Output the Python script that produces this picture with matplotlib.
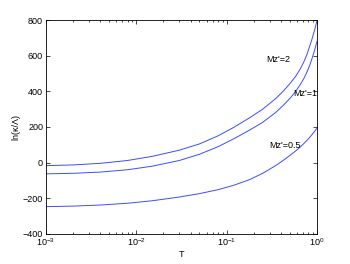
import matplotlib
matplotlib.use("Agg")
import matplotlib.pyplot as plt
from matplotlib.ticker import LogLocator, NullFormatter

plt.rcParams['font.family'] = ['Liberation Sans', 'DejaVu Sans']
plt.rcParams['mathtext.fontset'] = 'custom'
plt.rcParams['mathtext.rm'] = 'Liberation Sans'
plt.rcParams['mathtext.it'] = 'Liberation Sans:italic'

# temperature values
T = [0.001, 0.002, 0.004, 0.008, 0.015, 0.03, 0.05, 0.08, 0.12, 0.18,
     0.25, 0.35, 0.42, 0.5, 0.58, 0.65, 0.71, 0.77, 0.83, 0.88, 0.94, 1.0]

# ln(kappa/Lambda) for each Mz'
mz2 = [-17, -13, -4, 12, 35, 70, 105, 150, 198, 252,
       300, 360, 400, 443, 485, 525, 563, 605, 655, 695, 745, 800]
mz1 = [-63, -60, -53, -40, -20, 12, 47, 89, 134, 183,
       226, 282, 320, 360, 400, 437, 470, 507, 547, 585, 632, 682]
mz05 = [-247, -244, -238, -228, -214, -193, -174, -152, -127, -95,
        -60, -16, 12, 40, 66, 87, 106, 124, 142, 158, 176, 194]

labels = ["Mz'=2", "Mz'=1", "Mz'=0.5"]
label_pos = [(0.277, 576), (0.538, 389), (0.296, 95)]

fig = plt.figure(figsize=(3.5, 2.64), dpi=100)
ax = fig.add_axes([0.131, 0.114, 0.775, 0.81])

for y in (mz2, mz1, mz05):
    ax.plot(T, y, color='#3a4cff', lw=0.7)

for txt, (x, y) in zip(labels, label_pos):
    ax.text(x, y, txt, fontsize=6.5, va='center', ha='left')

ax.set_xscale('log')
ax.set_xlim(1e-3, 1)
ax.set_ylim(-400, 800)
ax.set_yticks(range(-400, 801, 200))
ax.xaxis.set_minor_locator(LogLocator(base=10, subs=range(2, 10)))
ax.xaxis.set_minor_formatter(NullFormatter())

ax.tick_params(which='both', direction='in', top=True, right=True,
               labelsize=6.5, width=0.5, pad=2)
ax.tick_params(which='major', length=3)
ax.tick_params(which='minor', length=1.6)
for s in ax.spines.values():
    s.set_linewidth(0.6)

ax.set_xlabel('T', fontsize=6.5, labelpad=1)
ax.set_ylabel('ln(κ/Λ)', fontsize=6.5, labelpad=2)

fig.savefig('out.png', dpi=100)
